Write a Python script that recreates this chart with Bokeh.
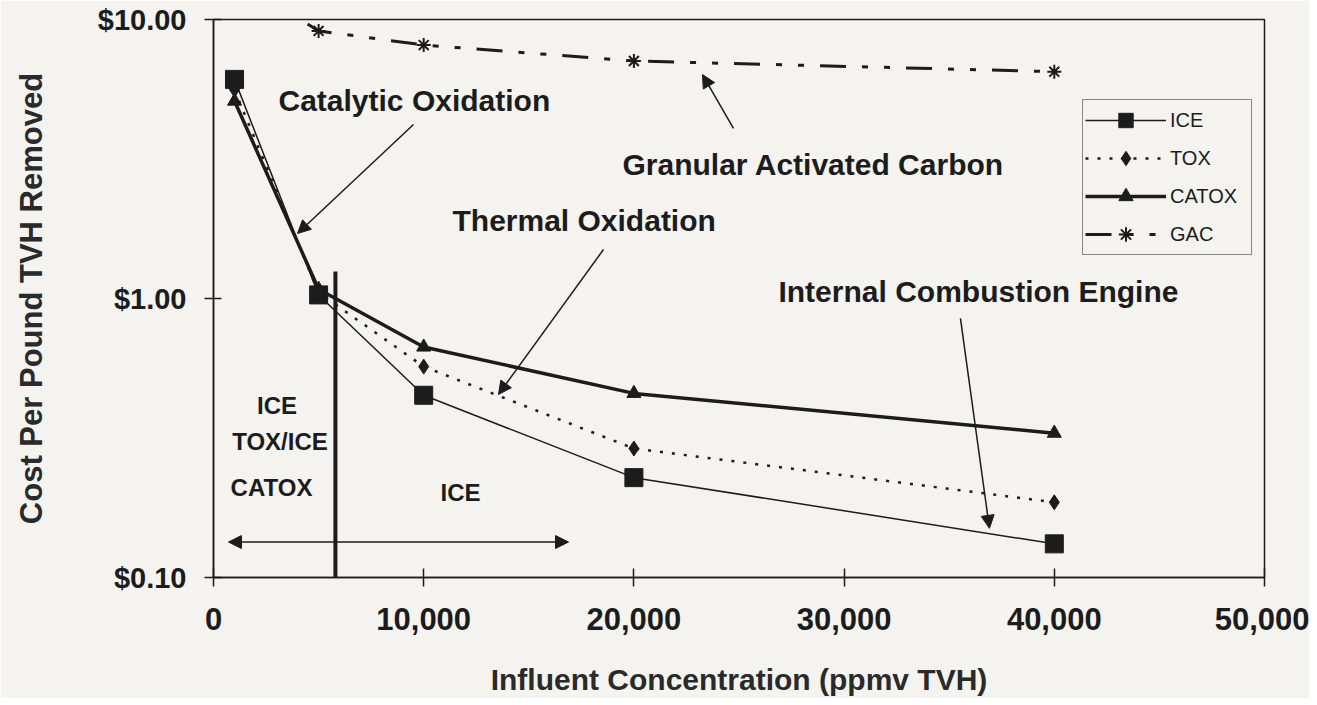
from bokeh.plotting import figure
from bokeh.models import (FixedTicker, PrintfTickFormatter, NumeralTickFormatter,
                          Arrow, NormalHead, Label, Range1d)
from bokeh.embed import file_html
from bokeh.resources import INLINE

# ---------------- data ----------------
concentration = [1000, 5000, 10000, 20000, 40000]
ice = [6.1, 1.03, 0.45, 0.228, 0.132]
tox = [5.6, 1.05, 0.57, 0.29, 0.186]
catox = [5.1, 1.08, 0.67, 0.457, 0.329]
gac = [14.0, 9.1, 8.1, 7.1, 6.5]
series_names = ["ICE", "TOX", "CATOX", "GAC"]
x_ticks = [0, 10000, 20000, 30000, 40000, 50000]
y_ticks = [0.1, 1, 10]
boundary_x = [5800]
boundary_y0 = [0.1]
boundary_y1 = [1.25]

BG = "#f4f3ef"
INK = "#1c1c1c"
FONT = "Liberation Sans"

p = figure(frame_width=1051, frame_height=558,
           min_border_left=213, min_border_right=45,
           min_border_top=19, min_border_bottom=120,
           y_axis_type="log",
           x_range=Range1d(0, 50000), y_range=Range1d(0.1, 10),
           output_backend="svg", toolbar_location=None)

p.background_fill_color = BG
p.border_fill_color = BG
p.outline_line_color = INK
p.outline_line_width = 1.5
p.xgrid.visible = False
p.ygrid.visible = False

# axes
xa = p.xaxis[0]
xa.ticker = FixedTicker(ticks=x_ticks)
xa.formatter = NumeralTickFormatter(format="0,0")
xa.axis_label = "Influent Concentration (ppmv TVH)"
ya = p.yaxis[0]
ya.ticker = FixedTicker(ticks=y_ticks)
ya.formatter = PrintfTickFormatter(format="$%.2f")
ya.axis_label = "Cost Per Pound TVH Removed"

for ax in (xa, ya):
    ax.axis_line_color = INK
    ax.axis_line_width = 1.5
    ax.major_tick_line_color = INK
    ax.major_tick_line_width = 1.5
    ax.minor_tick_line_color = None
    ax.major_label_text_font = FONT
    ax.major_label_text_font_style = "bold"
    ax.major_label_text_color = INK
    ax.axis_label_text_font = FONT
    ax.axis_label_text_font_style = "bold"
    ax.axis_label_text_color = "#2a2a2a"

xa.major_label_text_font_size = "31px"
xa.axis_label_text_font_size = "30px"
ya.major_label_text_font_size = "29px"
ya.axis_label_text_font_size = "31px"

xa.major_tick_in = 9
xa.major_tick_out = 9
xa.major_label_standoff = 21
xa.axis_label_standoff = 30
ya.major_tick_in = 8
ya.major_tick_out = 9
ya.major_label_standoff = 18
ya.axis_label_standoff = 46

# ---------------- series ----------------
p.line(concentration, ice, line_color=INK, line_width=1.5, legend_label=series_names[0])
p.scatter(concentration, ice, marker="square", size=18, fill_color=INK, line_color=INK,
          legend_label=series_names[0])

p.line(concentration, tox, line_color=INK, line_width=2.5, line_dash="3 9",
       legend_label=series_names[1])
p.scatter(concentration, tox, marker="diamond", size=15, fill_color=INK, line_color=INK,
          legend_label=series_names[1])

p.line(concentration, catox, line_color=INK, line_width=3.5, legend_label=series_names[2])
p.scatter(concentration, catox, marker="triangle", size=14, fill_color=INK, line_color=INK,
          legend_label=series_names[2])

p.line(concentration, gac, line_color=INK, line_width=3, line_dash="26 16 6 16 6 16",
       legend_label=series_names[3])
p.scatter(concentration, gac, marker="asterisk", size=14, line_color=INK, line_width=2,
          legend_label=series_names[3])

# boundary line
p.segment(x0=boundary_x, y0=boundary_y0, x1=boundary_x, y1=boundary_y1,
          line_color=INK, line_width=4)

# ---------------- legend ----------------
lg = p.legend[0]
lg.location = (869, 322)
lg.margin = 0
lg.padding = 2
lg.spacing = 2
lg.glyph_height = 36
lg.glyph_width = 81
lg.label_height = 20
lg.label_width = 79
lg.label_standoff = 4
lg.label_text_font = FONT
lg.label_text_font_size = "20px"
lg.label_text_color = INK
lg.border_line_color = INK
lg.border_line_width = 1.5
lg.background_fill_color = BG
lg.background_fill_alpha = 1.0

# ---------------- annotations ----------------
def head():
    return NormalHead(size=13, fill_color=INK, line_color=INK, line_width=1)

arrows = [
    (9514, 4.205, 3996, 1.71),      # Catalytic Oxidation
    (18553, 1.498, 13557, 0.453),   # Thermal Oxidation
    (24737, 4.07, 23262, 6.35),     # Granular Activated Carbon
    (35535, 0.848, 36915, 0.150),   # Internal Combustion Engine
]
for xs, ys, xe, ye in arrows:
    p.add_layout(Arrow(end=head(), x_start=xs, y_start=ys, x_end=xe, y_end=ye,
                       line_color=INK, line_width=1.5))

# double arrow
p.add_layout(Arrow(start=head(), end=head(), x_start=714, y_start=0.134,
                   x_end=16890, y_end=0.134, line_color=INK, line_width=1.5))

big_labels = [
    ("Catalytic Oxidation", 3092, 5.126),
    ("Granular Activated Carbon", 19456, 3.02),
    ("Thermal Oxidation", 11369, 1.911),
    ("Internal Combustion Engine", 26877, 1.059),
]
for txt, x, y in big_labels:
    p.add_layout(Label(x=x, y=y, text=txt, text_font=FONT, text_font_style="bold",
                       text_font_size="30px", text_color=INK,
                       text_align="left", text_baseline="middle"))

small_labels = [
    ("ICE", 3021, 0.4119),
    ("TOX/ICE", 3163, 0.3084),
    ("CATOX", 2759, 0.2102),
    ("ICE", 11750, 0.2017),
]
for txt, x, y in small_labels:
    p.add_layout(Label(x=x, y=y, text=txt, text_font=FONT, text_font_style="bold",
                       text_font_size="24px", text_color=INK,
                       text_align="center", text_baseline="middle"))

open("out.html", "w").write(file_html(p, INLINE))
